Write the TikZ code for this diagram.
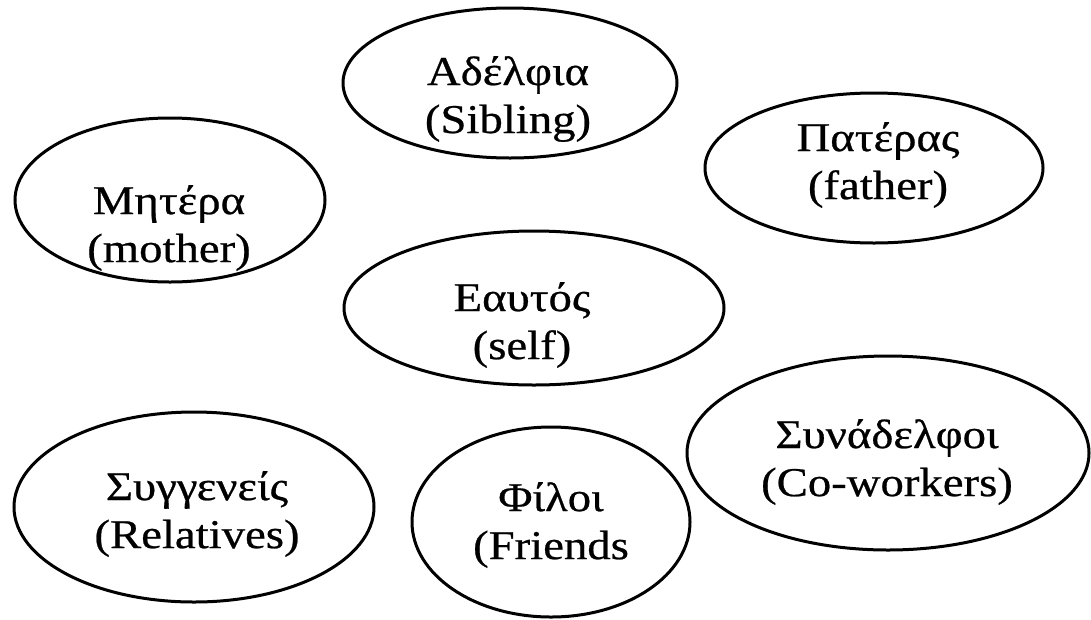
\documentclass[tikz,border=0pt]{standalone}
\usepackage{fontspec}
\setmainfont{Liberation Serif}[FakeStretch=1.14,FakeBold=0.6]
\usetikzlibrary{shapes.geometric}
\begin{document}
\begin{tikzpicture}
    [%%%%%%%%%%%%%%%%%%%%%%%%%%%%%%
        x=1pt, y=-1pt,
        bubble/.style={ellipse,draw=black,line width=3pt,inner sep=0pt},
        word/.style={align=center,font=\fontsize{41}{48}\selectfont},
    ]%%%%%%%%%%%%%%%%%%%%%%%%%%%%%%

\useasboundingbox (0,0) rectangle (1091,619);

\foreach \name/\x/\y/\rx/\ry in {sibling/510/83/167/75, mother/170/200/155/82,
    father/874/168/169/75, self/534/308/190/77, relatives/194/507/180/95,
    friends/551/522/139/95, coworkers/888/453/201/97}{
    \node[bubble,minimum width=2*\rx,minimum height=2*\ry] (\name) at (\x,\y){};
}

\node[word] (sibling-txt) at (508,99){Αδέλφια\\(Sibling)};
\node[word] (mother-txt) at (169,228){Μητέρα\\(mother)};
\node[word] (father-txt) at (878,165){Πατέρας\\(father)};
\node[word] (self-txt) at (522,325){Εαυτός\\(self)};
\node[word] (relatives-txt) at (197,514){Συγγενείς\\(Relatives)};
\node[word] (friends-txt) at (551,525){Φίλοι\\(Friends};
\node[word] (coworkers-txt) at (887,462){Συνάδελφοι\\(Co-workers)};
\end{tikzpicture}
\end{document}
